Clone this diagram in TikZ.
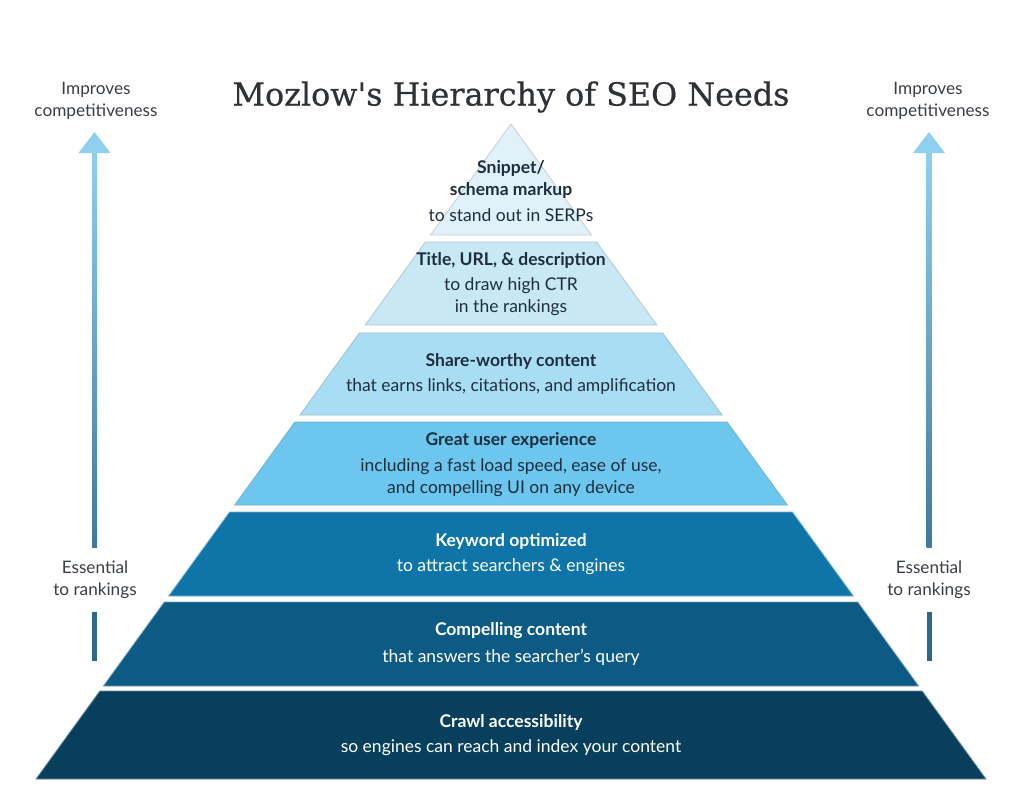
\documentclass[tikz,border=0pt]{standalone}
\usepackage{fontspec}
\usepackage{graphicx}
\setmainfont{Lato}
\newfontfamily\titlefont[FakeBold=0.5]{DejaVu Serif}
\definecolor{cA}{HTML}{E0F1FA}
\definecolor{cB}{HTML}{C8E8F6}
\definecolor{cC}{HTML}{A9DDF3}
\definecolor{cD}{HTML}{6CC6EE}
\definecolor{cE}{HTML}{0F75A8}
\definecolor{cF}{HTML}{0D5B84}
\definecolor{cG}{HTML}{083F5C}
\definecolor{darktxt}{HTML}{1E2E3E}
\definecolor{greytxt}{HTML}{3A3F45}
\definecolor{titletxt}{HTML}{2E3135}
\definecolor{arrowtop}{HTML}{8FD0EE}
\definecolor{arrowbot}{HTML}{3D7A9B}
\definecolor{arrowlow}{HTML}{2C6A8A}
\tikzset{
  layerlight/.style={line width=0.8pt, draw=#1!70!gray},
  layerdark/.style={line width=0.8pt, draw=#1!60!white},
  lighttext/.style={text=darktxt, align=center, font=\fontsize{17.5}{22}\selectfont, inner sep=0pt},
  darktext/.style={text=white, align=center, font=\fontsize{17.5}{22}\selectfont, inner sep=0pt},
  boldlight/.style={lighttext, font=\fontsize{17.5}{22}\bfseries},
  bolddark/.style={darktext, font=\fontsize{17.5}{22}\bfseries},
  sidetext/.style={text=greytxt, align=center, font=\fontsize{17.2}{22}\selectfont, inner sep=0pt},
  shaft/.style={line width=5pt},
}
\begin{document}
\begin{tikzpicture}[x=1pt,y=-1pt]
\useasboundingbox[fill=white] (0,0) rectangle (1024,796);
% title
\node[text=titletxt, inner sep=0pt] (title) at (511,97) {\resizebox{557pt}{!}{\titlefont Mozlow's Hierarchy of SEO Needs}};
% layers
\fill[cA, layerlight=cA] (511,124) -- (591.5,235) -- (430.5,235) -- cycle;
\fill[cB, layerlight=cB] (425.4,242) -- (596.6,242) -- (656.8,325) -- (365.2,325) -- cycle;
\fill[cC, layerlight=cC] (359.4,333) -- (662.6,333) -- (722,415) -- (300,415) -- cycle;
\fill[cD, layerlight=cD] (294.9,422) -- (727.1,422) -- (787.3,505) -- (234.7,505) -- cycle;
\fill[cE, layerdark=cE] (229.6,512) -- (792.4,512) -- (853.3,596) -- (168.7,596) -- cycle;
\fill[cF, layerdark=cF] (164.3,602) -- (857.7,602) -- (918.6,686) -- (103.4,686) -- cycle;
\fill[cG, layerdark=cG] (99.8,691) -- (922.2,691) -- (986,779) -- (36,779) -- cycle;
% layer texts
\node[boldlight] (l1a) at (511,179) {Snippet/\\schema markup};
\node[lighttext] (l1b) at (511,215) {to stand out in SERPs};
\node[boldlight] (l2a) at (511,260) {Title, URL, \& description};
\node[lighttext] (l2b) at (511,297) {to draw high CTR\\in the rankings};
\node[boldlight] (l3a) at (511,361) {Share-worthy content};
\node[lighttext] (l3b) at (511,387) {that earns links, citations, and amplification};
\node[boldlight] (l4a) at (511,440) {Great user experience};
\node[lighttext] (l4b) at (511,478) {including a fast load speed, ease of use,\\and compelling UI on any device};
\node[bolddark] (l5a) at (511,541) {Keyword optimized};
\node[darktext] (l5b) at (511,567) {to attract searchers \& engines};
\node[bolddark] (l6a) at (511,631) {Compelling content};
\node[darktext] (l6b) at (511,657) {that answers the searcher’s query};
\node[bolddark] (l7a) at (511,722) {Crawl accessibility};
\node[darktext] (l7b) at (511,748) {so engines can reach and index your content};
% side labels
\node[sidetext] (impL) at (96,101) {Improves\\competitiveness};
\node[sidetext] (impR) at (928,101) {Improves\\competitiveness};
\node[sidetext] (essL) at (95,580) {Essential\\to rankings};
\node[sidetext] (essR) at (929,580) {Essential\\to rankings};
% left arrow
\coordinate (aLtip) at (94.5,132);
\coordinate (aLbase) at (94.5,153);
\coordinate (aLlow1) at (94.5,612);
\coordinate (aLlow2) at (94.5,661);
\shade[top color=arrowtop, bottom color=arrowbot] (92,152) rectangle (97,547);
\fill[arrowtop] (aLtip) -- ([xshift=16pt]aLbase) -- ([xshift=-16pt]aLbase) -- cycle;
\draw[arrowlow, shaft] (aLlow1) -- (aLlow2);
% right arrow
\coordinate (aRtip) at (929,132);
\coordinate (aRbase) at (929,153);
\coordinate (aRlow1) at (929,612);
\coordinate (aRlow2) at (929,661);
\shade[top color=arrowtop, bottom color=arrowbot] (926.5,152) rectangle (931.5,547);
\fill[arrowtop] (aRtip) -- ([xshift=16pt]aRbase) -- ([xshift=-16pt]aRbase) -- cycle;
\draw[arrowlow, shaft] (aRlow1) -- (aRlow2);
\end{tikzpicture}
\end{document}
